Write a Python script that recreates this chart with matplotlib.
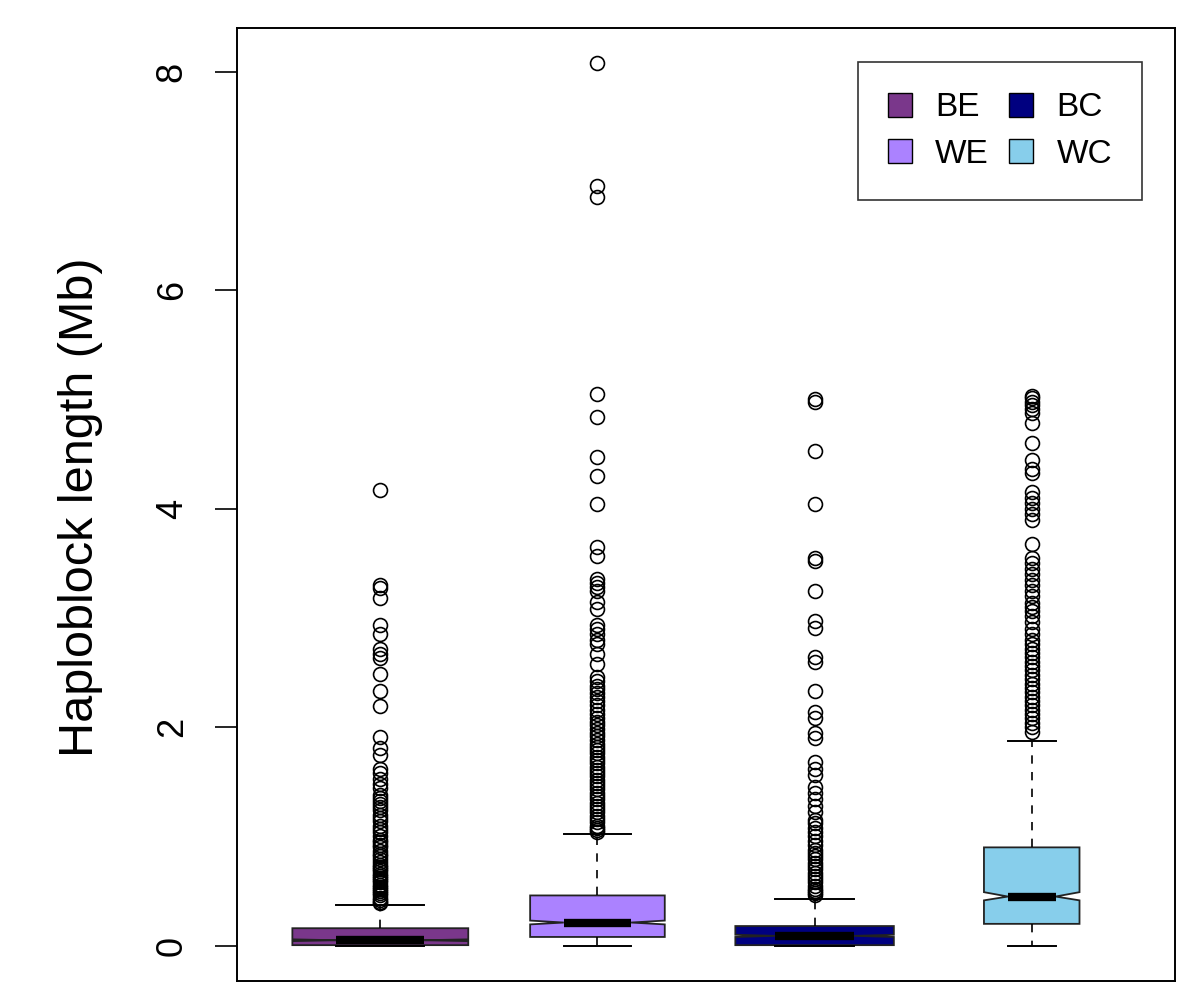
import matplotlib.pyplot as plt
from matplotlib.patches import Patch

# groups and colours
groups = ['BE', 'WE', 'BC', 'WC']
colors = ['#7A378B', '#AB82FF', '#000080', '#87CEEB']

# box statistics (Mb)
whislo = [0.0, 0.0, 0.0, 0.0]
q1 = [0.005, 0.08, 0.005, 0.20]
med = [0.05, 0.212, 0.09, 0.45]
q3 = [0.16, 0.46, 0.18, 0.90]
whishi = [0.376, 1.02, 0.43, 1.87]
cilo = [0.042, 0.195, 0.08, 0.415]
cihi = [0.058, 0.23, 0.10, 0.49]
box_widths = [0.81, 0.62, 0.73, 0.44]  # varwidth boxes

# outliers
fliers_BE = [4.17, 3.30, 3.27, 3.18, 2.94, 2.85, 2.72, 2.67, 2.63, 2.49, 2.33, 2.19,
             1.91, 1.81, 1.75, 1.62, 1.58, 1.53, 1.48, 1.44, 1.38, 1.35, 1.32, 1.30,
             1.27, 1.24, 1.20, 1.17, 1.14, 1.10, 1.07, 1.04, 1.00, 0.97, 0.95, 0.92,
             0.90, 0.87, 0.84, 0.82, 0.79, 0.77, 0.74, 0.72, 0.70, 0.68, 0.66, 0.64,
             0.62, 0.60, 0.58, 0.56, 0.54, 0.52, 0.50, 0.48, 0.46, 0.44, 0.42, 0.40, 0.39]
fliers_WE = [8.08, 6.95, 6.85, 5.05, 4.84, 4.47, 4.30, 4.04, 3.65, 3.57, 3.36, 3.32,
             3.28, 3.25, 3.15, 3.08, 2.94, 2.90, 2.85, 2.80, 2.76, 2.67, 2.58, 2.46,
             2.42, 2.38, 2.35, 2.31, 2.28, 2.24, 2.20, 2.16, 2.12, 2.08, 2.05, 2.02,
             1.98, 1.95, 1.92, 1.88, 1.85, 1.82, 1.79, 1.76, 1.73, 1.70, 1.67, 1.64,
             1.61, 1.58, 1.55, 1.52, 1.49, 1.46, 1.43, 1.40, 1.37, 1.34, 1.31, 1.28,
             1.25, 1.22, 1.19, 1.16, 1.13, 1.10, 1.08, 1.06, 1.04]
fliers_BC = [5.00, 4.98, 4.53, 4.04, 3.55, 3.52, 3.25, 2.97, 2.91, 2.64, 2.60, 2.33,
             2.14, 2.08, 1.95, 1.90, 1.68, 1.62, 1.56, 1.45, 1.40, 1.34, 1.28, 1.22,
             1.15, 1.12, 1.08, 1.04, 1.00, 0.96, 0.92, 0.88, 0.85, 0.82, 0.79, 0.76,
             0.73, 0.70, 0.67, 0.64, 0.61, 0.58, 0.55, 0.52, 0.50, 0.48, 0.46]
fliers_WC = [5.03, 5.01, 4.98, 4.95, 4.91, 4.88, 4.78, 4.60, 4.45, 4.36, 4.33, 4.15,
             4.10, 4.05, 4.00, 3.95, 3.90, 3.68, 3.55, 3.50, 3.45, 3.40, 3.35, 3.30,
             3.25, 3.20, 3.14, 3.10, 3.06, 3.02, 2.96, 2.90, 2.85, 2.80, 2.76, 2.72,
             2.68, 2.64, 2.60, 2.56, 2.52, 2.48, 2.44, 2.40, 2.36, 2.32, 2.28, 2.24,
             2.20, 2.16, 2.12, 2.08, 2.04, 2.00, 1.96]
fliers = [fliers_BE, fliers_WE, fliers_BC, fliers_WC]

plt.rcParams['font.family'] = ['Liberation Sans', 'DejaVu Sans']

stats = []
for i, g in enumerate(groups):
    stats.append(dict(label=g, whislo=whislo[i], q1=q1[i], med=med[i], q3=q3[i],
                      whishi=whishi[i], cilo=cilo[i], cihi=cihi[i], fliers=fliers[i]))

fig = plt.figure(figsize=(12, 10.08), dpi=100)
ax = fig.add_axes([0.1975, 0.0268, 0.7817, 0.9454])

bp = ax.bxp(stats, positions=[1, 2, 3, 4], widths=box_widths, shownotches=True,
            patch_artist=True,
            boxprops=dict(edgecolor='#222222', linewidth=1.3),
            medianprops=dict(color='black', linewidth=6, solid_capstyle='butt'),
            whiskerprops=dict(color='black', linestyle=(0, (5, 5)), linewidth=1.2),
            capprops=dict(color='black', linewidth=1.4),
            flierprops=dict(marker='o', markerfacecolor='none', markeredgecolor='black',
                            markersize=10, markeredgewidth=1.2))
for patch, c in zip(bp['boxes'], colors):
    patch.set_facecolor(c)

ax.set_xlim(0.34, 4.66)
ax.set_ylim(-0.323, 8.40)
ax.set_xticks([])
ax.set_yticks([0, 2, 4, 6, 8])
ax.set_yticklabels(['0', '2', '4', '6', '8'], rotation=90, va='center', fontsize=26)
ax.tick_params(axis='y', length=16, width=1.2, pad=18)
for s in ax.spines.values():
    s.set_linewidth(1.4)

fig.text(0.067, 0.497, 'Haploblock length (Mb)', rotation=90, ha='center', va='center',
         fontsize=35)

handles = [Patch(facecolor=c, edgecolor='black', linewidth=1) for c in colors]
leg = ax.legend(handles, groups, ncol=2, loc='upper right',
                bbox_to_anchor=(0.965, 0.964), borderaxespad=0, fontsize=24,
                frameon=True, fancybox=False, edgecolor='black',
                handlelength=0.73, handleheight=0.73, handletextpad=0.7,
                columnspacing=0.6, labelspacing=0.47, borderpad=0.9)
leg.get_frame().set_linewidth(1.2)

fig.savefig('out.png', dpi=100)
